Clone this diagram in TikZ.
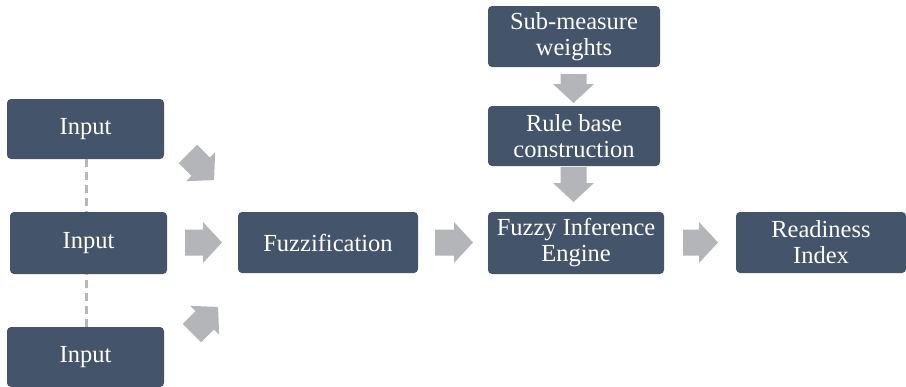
\documentclass[tikz,border=0pt]{standalone}
\usepackage{fontspec}
\setmainfont{Liberation Serif}
\definecolor{boxfill}{HTML}{44546A}
\definecolor{arrgray}{RGB}{180,181,185}
\definecolor{dashgray}{RGB}{184,184,186}
\newcommand{\blockarr}[4]{% center x, center y, angle, length
  \begin{scope}[shift={(#1,#2)},rotate=#3]
    \fill[arrgray] ({-#4/2},-13) -- ({#4/2-19},-13) -- ({#4/2-19},-20.5) -- ({#4/2},0)
      -- ({#4/2-19},20.5) -- ({#4/2-19},13) -- ({-#4/2},13) -- cycle;
  \end{scope}}
\begin{document}
\begin{tikzpicture}[x=1pt,y=-1pt,
  blockbox/.style={draw=none,fill=boxfill,rounded corners=4pt,text=white,
    font=\fontsize{24.5}{26}\selectfont,align=center,inner sep=0pt},
  linkdash/.style={draw=dashgray,line width=3pt,dash pattern=on 8pt off 5pt}]
\useasboundingbox (0,0) rectangle (906,386);
\node[blockbox,minimum width=157pt,minimum height=60pt] (in1) at (85.5,129) {Input};
\node[blockbox,minimum width=157pt,minimum height=62pt] (in2) at (88.5,243) {Input};
\node[blockbox,minimum width=157pt,minimum height=60pt] (in3) at (85.5,357) {Input};
\node[blockbox,minimum width=180pt,minimum height=61pt] (fuzz) at (328,242.5) {Fuzzification};
\node[blockbox,minimum width=172pt,minimum height=61pt] (sub) at (574,36.5) {Sub-measure\\weights};
\node[blockbox,minimum width=172pt,minimum height=60pt] (rule) at (574,136) {Rule base\\construction};
\node[blockbox,minimum width=176pt,minimum height=62pt] (fie) at (576,243) {Fuzzy Inference\\Engine};
\node[blockbox,minimum width=170pt,minimum height=61pt] (ready) at (821,242.5) {Readiness\\Index};
\draw[linkdash] (in1.south) ++(0.5,0) coordinate (d1a) -- (d1a |- in2.north);
\draw[linkdash] (in3.north) ++(0.5,0) coordinate (d2a) -- (d2a |- in2.south);
\blockarr{201}{167}{-45}{37}
\blockarr{203.5}{242.5}{0}{37}
\blockarr{205}{320}{45}{37}
\blockarr{454}{242.5}{0}{38}
\blockarr{700.5}{242.5}{0}{35}
\blockarr{573.5}{88.5}{-90}{29}
\blockarr{573.5}{184.5}{-90}{35}
\end{tikzpicture}
\end{document}
